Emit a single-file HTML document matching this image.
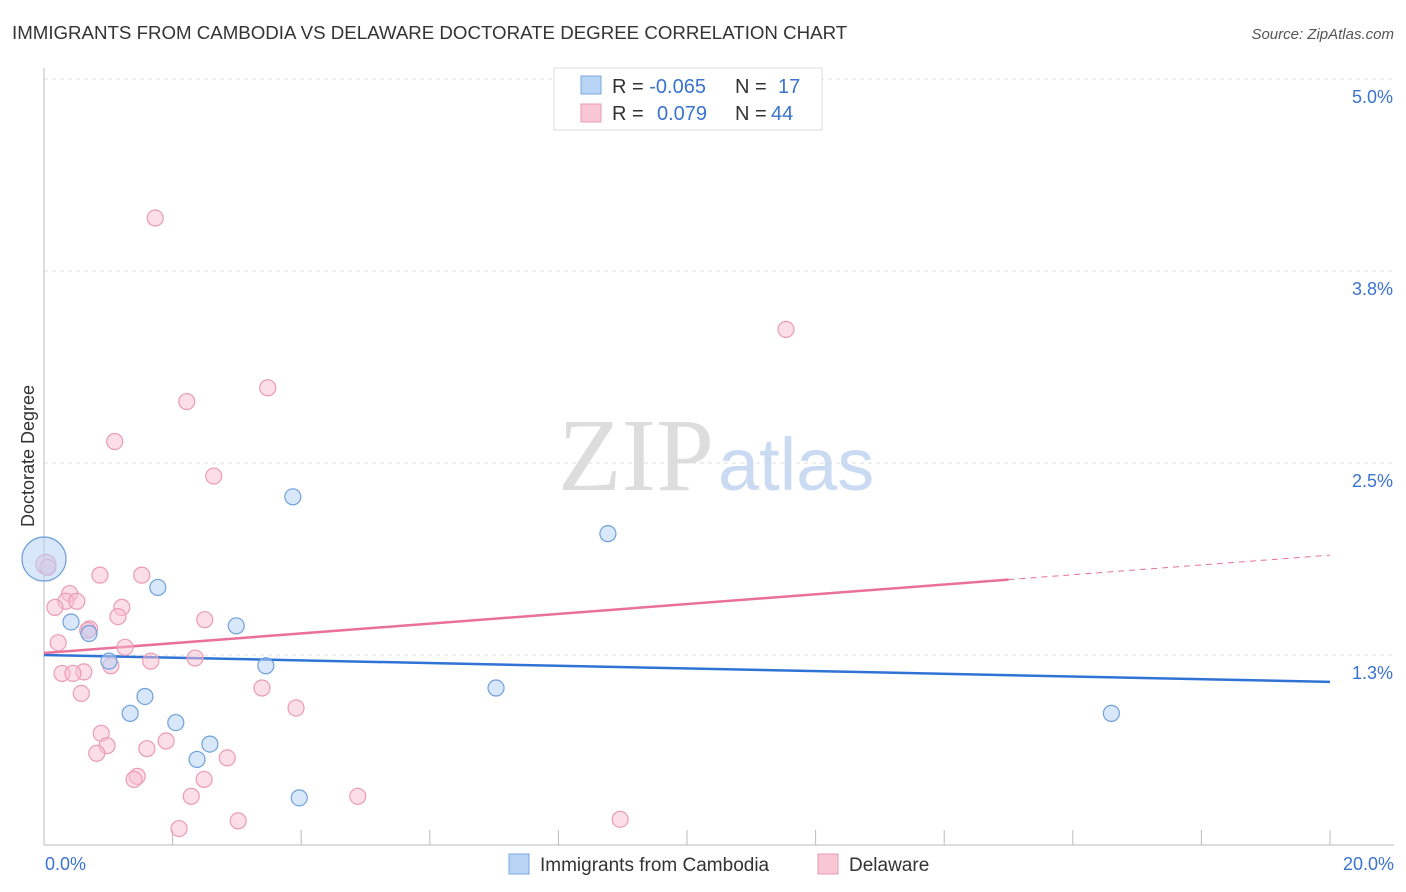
<!DOCTYPE html>
<html><head><meta charset="utf-8"><style>
body{margin:0;background:#fff;font-family:"Liberation Sans",sans-serif;}
svg{display:block}
</style></head><body>
<svg width="1406" height="892" xmlns="http://www.w3.org/2000/svg" id="chart">
<text x="12" y="39" font-size="18.7" fill="#333">IMMIGRANTS FROM CAMBODIA VS DELAWARE DOCTORATE DEGREE CORRELATION CHART</text>
<text x="1394" y="39" font-size="15" fill="#555" font-style="italic" text-anchor="end">Source: ZipAtlas.com</text>
<text x="34" y="456" font-size="18" fill="#333" transform="rotate(-90 34 456)" text-anchor="middle">Doctorate Degree</text>
<g id="grid"></g><g id="axes"></g>
<text x="714" y="490" font-size="104" fill="#ddd" text-anchor="end" font-family="Liberation Serif,serif">ZIP</text>
<text x="718" y="490" font-size="74" fill="#c9daf2">atlas</text>
<g id="lines"></g><g id="points"></g>
<g>
<rect x="554" y="68" width="268" height="62" fill="#fff" stroke="#ddd"/>
<rect x="581" y="76" width="20" height="18" fill="#b8d4f5" stroke="#7aa8e0"/>
<rect x="581" y="104" width="20" height="18" fill="#f9c6d6" stroke="#eb9bb5"/>
<text x="612" y="93" font-size="20" fill="#333">R = <tspan fill="#3a73d0">-0.065</tspan><tspan x="735">N = </tspan><tspan x="778" fill="#3a73d0">17</tspan></text>
<text x="612" y="120" font-size="20" fill="#333">R = <tspan x="657" fill="#3a73d0">0.079</tspan><tspan x="735">N = </tspan><tspan x="771" fill="#3a73d0">44</tspan></text>
</g>
<g>
<rect x="509" y="854" width="20" height="20" fill="#b8d4f5" stroke="#7aa8e0"/>
<text x="540" y="871" font-size="19" fill="#333">Immigrants from Cambodia</text>
<rect x="818" y="854" width="20" height="20" fill="#f9c6d6" stroke="#eb9bb5"/>
<text x="849" y="871" font-size="19" fill="#333">Delaware</text>
</g>
</svg>
<script>
const yTicks=[5.0,3.75,2.5,1.25];
const yTickLabels=["5.0%","3.8%","2.5%","1.3%"];
const xTickVals=[0,2,4,6,8,10,12,14,16,18,20];
const cambodiaX=[0.0,0.42,0.70,1.01,1.77,1.57,1.34,2.05,2.58,2.38,2.99,3.45,3.87,3.97,7.03,8.77,16.6];
const cambodiaY=[1.875,1.465,1.39,1.21,1.69,0.98,0.87,0.81,0.67,0.57,1.44,1.18,2.28,0.32,1.035,2.04,0.87];
const delawareX=[1.73,11.54,3.48,2.22,1.10,2.64,0.03,0.06,0.87,1.52,0.40,0.34,0.51,0.17,1.21,1.15,2.50,0.71,0.22,1.26,1.66,2.35,1.04,0.62,0.28,0.45,0.58,3.39,3.92,0.89,1.90,0.98,1.60,0.82,2.85,1.45,1.40,2.49,2.29,4.88,3.02,2.10,8.96,0.68];
const delawareY=[4.095,3.37,2.99,2.90,2.64,2.415,1.84,1.82,1.77,1.77,1.65,1.60,1.60,1.56,1.56,1.50,1.48,1.42,1.33,1.30,1.21,1.23,1.18,1.14,1.13,1.13,1.00,1.035,0.905,0.74,0.69,0.66,0.64,0.61,0.58,0.46,0.44,0.44,0.33,0.33,0.17,0.12,0.18,1.41];
const cambodiaTrend=[1.25,1.075];
const delawareTrend=[1.263,1.90];
const solidEnd=15;
const X=v=>44+v*64.3, Y=v=>847-v*153.6;
const NS="http://www.w3.org/2000/svg";
function mk(tag,attrs,parent){const e=document.createElementNS(NS,tag);for(const k in attrs)e.setAttribute(k,attrs[k]);document.getElementById(parent).appendChild(e);return e;}
yTicks.forEach((t,i)=>{
 const g=mk('line',{x1:44,x2:1394,y1:Y(t),y2:Y(t),stroke:'#ddd','stroke-dasharray':'4,4'},'grid');
 
 
 const tx=mk('text',{x:1393,y:Y(t)+24,'font-size':18,fill:'#3a73d0','text-anchor':'end'},'grid');
 tx.textContent=yTickLabels[i];
 
 
});
const ax=mk('line',{x1:44,x2:44,y1:68,y2:845,stroke:'#bbb'},'axes');


const bx=mk('line',{x1:44,x2:1394,y1:845,y2:845,stroke:'#bbb'},'axes');


xTickVals.forEach(v=>{const t=mk('line',{x1:X(v),x2:X(v),y1:830,y2:845,stroke:'#bbb'},'axes');
 
 });
const xl=mk('text',{x:45,y:870,'font-size':18,fill:'#3a73d0'},'axes');xl.textContent='0.0%';


const xr=mk('text',{x:1394,y:870,'font-size':18,fill:'#3a73d0','text-anchor':'end'},'axes');xr.textContent='20.0%';


const bl=mk('line',{x1:X(0),x2:X(20),y1:Y(cambodiaTrend[0]),y2:Y(cambodiaTrend[1]),stroke:'#2f73d6','stroke-width':2.5},'lines');


const pm=delawareTrend[0]+(delawareTrend[1]-delawareTrend[0])*solidEnd/20;
const pl=mk('line',{x1:X(0),x2:X(solidEnd),y1:Y(delawareTrend[0]),y2:Y(pm),stroke:'#e8709a','stroke-width':2.5},'lines');


const pd=mk('line',{x1:X(solidEnd),x2:X(20),y1:Y(pm),y2:Y(delawareTrend[1]),stroke:'#e8709a','stroke-width':1,'stroke-dasharray':'6,5'},'lines');


delawareX.forEach((x,i)=>{const c=mk('circle',{cx:X(x),cy:Y(delawareY[i]),r:i==6?10:8,fill:'rgba(249,190,210,0.5)',stroke:'#eb9bb5','stroke-width':1.2},'points');
 
 });
cambodiaX.forEach((x,i)=>{const c=mk('circle',{cx:X(x),cy:Y(cambodiaY[i]),r:i==0?22:8,fill:'rgba(184,212,245,0.55)',stroke:'#6fa0dc','stroke-width':1.2},'points');
 
 });
</script>
</body></html>
